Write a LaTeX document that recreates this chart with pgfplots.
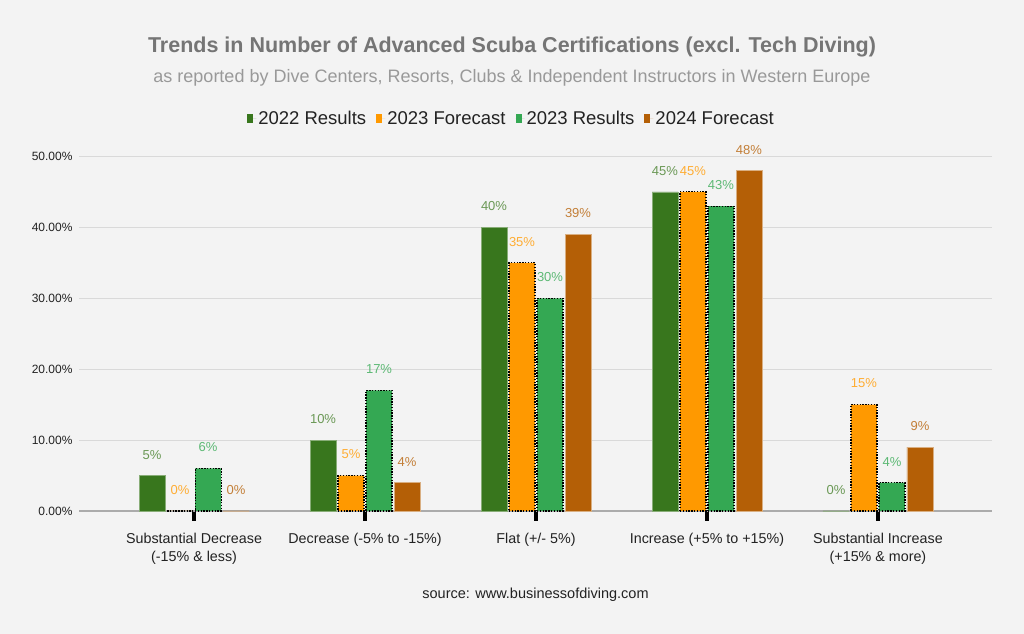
\documentclass[border=0pt]{standalone}
\usepackage{fontspec}
\setmainfont{Liberation Sans}
\usepackage{pgfplots}
\pgfplotsset{compat=1.18}
\definecolor{bg}{HTML}{F3F3F3}
\definecolor{cA}{HTML}{38761D}
\definecolor{cB}{HTML}{FF9900}
\definecolor{cC}{HTML}{34A853}
\definecolor{cD}{HTML}{B45F06}
\definecolor{titlegray}{HTML}{757575}
\definecolor{subgray}{HTML}{999999}
\definecolor{gridc}{HTML}{D9D9D9}
\definecolor{basec}{HTML}{ABABAB}
\definecolor{txt}{HTML}{222222}
\begin{document}
\begin{tikzpicture}[x=1bp,y=1bp]
\useasboundingbox (0,0) rectangle (1024,634);
\fill[bg] (0,0) rectangle (1024,634);
\node[font=\fontsize{21.5bp}{24bp}\selectfont\bfseries, text=titlegray] at (512,587) {Trends in Number of Advanced Scuba Certifications (excl. Tech Diving)};
\node[font=\fontsize{18bp}{20bp}\selectfont, text=subgray] at (512,556) {as reported by Dive Centers, Resorts, Clubs \& Independent Instructors in Western Europe};
\node[font=\fontsize{14.5bp}{17bp}\selectfont, text=txt] at (535.5,39) {source: www.businessofdiving.com};
\begin{axis}[
  at={(79bp,123bp)}, anchor=south west,
  scale only axis, width=913bp, height=354.5bp,
  xmin=-0.673, xmax=4.667, ymin=0, ymax=50,
  clip=false,
  ybar=2bp, bar width=26bp,
  axis x line*=bottom, axis y line*=left,
  y axis line style={draw=none},
  x axis line style={basec, line width=1.5bp, -},
  ymajorgrids, major grid style={gridc, line width=1bp},
  xtick={0,1,2,3,4},
  xticklabels={{Substantial Decrease\\(-15\% \& less)},{Decrease (-5\% to -15\%)},{Flat (+/- 5\%)},{Increase (+5\% to +15\%)},{Substantial Increase\\(+15\% \& more)}},
  xticklabel style={align=center, font=\fontsize{14.3bp}{18bp}\selectfont, text=txt, yshift=-9bp},
  xtick align=outside, major tick length=10bp,
  xtick style={line width=4bp, black},
  ytick={0,10,20,30,40,50},
  ytick style={draw=none},
  yticklabel={\pgfmathprintnumber[fixed,fixed zerofill,precision=2]{\tick}\%},
  yticklabel style={font=\fontsize{12bp}{14bp}\selectfont, text=txt, xshift=-3bp},
  /pgf/number format/assume math mode=true,
  nodes near coords={\pgfmathprintnumber[fixed,precision=0]{\pgfplotspointmeta}\%},
  nodes near coords style={font=\fontsize{13bp}{15bp}\selectfont, anchor=south, inner sep=0pt, yshift=16bp},
  legend columns=4,
  legend style={draw=none, fill=none, at={(axis description cs:0.5,1)}, anchor=center, xshift=-24bp, yshift=37.5bp,
    font=\fontsize{18.5bp}{20bp}\selectfont, text=txt,
    /tikz/every even column/.append style={column sep=8bp}},
  legend image code/.code={\fill[#1, draw=none, solid] (0bp,-4.5bp) rectangle (6bp,4.5bp); \path[draw=none] (0bp,0bp) -- (9bp,0bp);},
]
\addplot[fill=cA, draw=cA!60!white, line width=0.8bp, every node near coord/.append style={text=cA!75!white}]
  coordinates {(0,5) (1,10) (2,40) (3,45) (4,0)};
\addlegendentry{2022 Results}
\addplot[fill=cB, draw=black, dash pattern=on 1.4bp off 1.4bp, line width=1.1bp, every node near coord/.append style={text=cB!80!white}]
  coordinates {(0,0) (1,5) (2,35) (3,45) (4,15)};
\addlegendentry{2023 Forecast}
\addplot[fill=cC, draw=black, dash pattern=on 1.4bp off 1.4bp, line width=1.1bp, every node near coord/.append style={text=cC!80!white}]
  coordinates {(0,6) (1,17) (2,30) (3,43) (4,4)};
\addlegendentry{2023 Results}
\addplot[fill=cD, draw=cD!50!white, line width=0.8bp, every node near coord/.append style={text=cD!80!white}]
  coordinates {(0,0) (1,4) (2,39) (3,48) (4,9)};
\addlegendentry{2024 Forecast}
\end{axis}
\end{tikzpicture}
\end{document}
